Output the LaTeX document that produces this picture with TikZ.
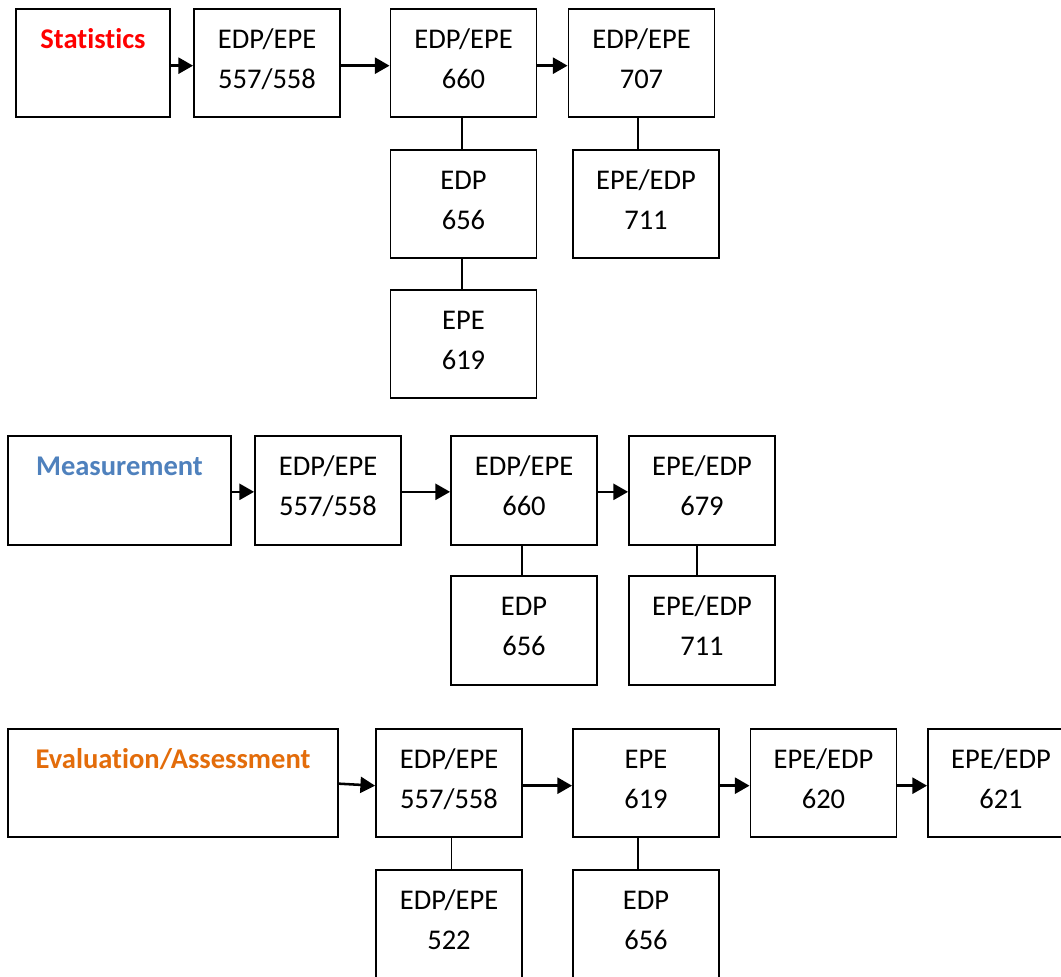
\documentclass[tikz,border=0pt]{standalone}
\usepackage{fontspec}
\setmainfont{Carlito}[Ligatures=NoCommon]
\usetikzlibrary{arrows.meta,calc}
\definecolor{statred}{HTML}{FF0000}
\definecolor{measblue}{HTML}{4F81BD}
\definecolor{evalorange}{HTML}{E36C0A}
\newcommand\twoline[2]{\rule{0pt}{17pt}#1\\#2\rule[-9.5pt]{0pt}{0pt}}
\tikzset{
  bx/.style={draw, line width=1.4pt, inner sep=0pt, align=center,
    minimum width=109.5pt, minimum height=81pt,
    font=\fontsize{21.4pt}{30pt}\selectfont},
  titlebox/.style={draw, line width=1.4pt, inner sep=0pt, minimum height=81pt},
  ttl/.style={anchor=base, inner sep=0pt, font=\fontsize{21.4pt}{30pt}\selectfont\bfseries},
  arr/.style={line width=1.9pt, -{Triangle[length=11pt,width=12pt]}},
  conn/.style={line width=1.2pt},
}
\begin{document}
\begin{tikzpicture}[x=0.75pt,y=-0.75pt]
\clip (0,0) rectangle (1061,976);
\fill[white] (0,0) rectangle (1061,976);
% ---------- Statistics ----------
\node[titlebox, minimum width=115.5pt] (stat) at (93,63) {};
\node[ttl, text=statred] (statT) at (93,48) {Statistics};
\node[bx] (s1) at (267,63) {\twoline{EDP/EPE}{557/558}};
\node[bx] (s2) at (463.5,63) {\twoline{EDP/EPE}{660}};
\node[bx] (s3) at (641.5,63) {\twoline{EDP/EPE}{707}};
\node[bx] (s4) at (463.5,204) {\twoline{EDP}{656}};
\node[bx] (s5) at (646,204) {\twoline{EPE/EDP}{711}};
\node[bx] (s6) at (463.5,344) {\twoline{EPE}{619}};
\draw[arr] ([yshift=-2pt]stat.east) -- ([yshift=-2pt]s1.west);
\draw[arr] ([yshift=-2pt]s1.east) -- ([yshift=-2pt]s2.west);
\draw[arr] ([yshift=-2pt]s2.east) -- ([yshift=-2pt]s3.west);
\draw[conn] ([xshift=-1.3pt]s2.south) -- ([xshift=-1.3pt]s4.north);
\draw[conn] ([xshift=-1.3pt]s4.south) -- ([xshift=-1.3pt]s6.north);
\draw[conn] ([xshift=-2.6pt]s3.south) -- ([xshift=-2.6pt]s3.south |- s5.north);
% ---------- Measurement ----------
\node[titlebox, minimum width=167.25pt, minimum height=81.75pt] (meas) at (119.5,490.5) {};
\node[ttl, text=measblue] (measT) at (119.5,475) {Measurement};
\node[bx, minimum height=81.75pt] (m1) at (328,490.5) {\twoline{EDP/EPE}{557/558}};
\node[bx, minimum height=81.75pt] (m2) at (524,490.5) {\twoline{EDP/EPE}{660}};
\node[bx, minimum height=81.75pt] (m3) at (702,490.5) {\twoline{EPE/EDP}{679}};
\node[bx, minimum height=81.75pt] (m4) at (524,630.5) {\twoline{EDP}{656}};
\node[bx, minimum height=81.75pt] (m5) at (702,630.5) {\twoline{EPE/EDP}{711}};
\draw[arr] ([yshift=-1pt]meas.east) -- ([yshift=-1pt]m1.west);
\draw[arr] ([yshift=-1pt]m1.east) -- ([yshift=-1pt]m2.west);
\draw[arr] ([yshift=-1pt]m2.east) -- ([yshift=-1pt]m3.west);
\draw[conn] ([xshift=-1.3pt]m2.south) -- ([xshift=-1.3pt]m4.north);
\draw[conn] ([xshift=-3.75pt]m3.south) -- ([xshift=-3.75pt]m5.north);
% ---------- Evaluation/Assessment ----------
\node[titlebox, minimum width=247.5pt] (eval) at (173,783) {};
\node[ttl, text=evalorange] (evalT) at (173,768) {Evaluation/Assessment};
\node[bx] (e1) at (449,783) {\twoline{EDP/EPE}{557/558}};
\node[bx] (e2) at (646,783) {\twoline{EPE}{619}};
\node[bx] (e3) at (823.5,783) {\twoline{EPE/EDP}{620}};
\node[bx] (e4) at (1001,783) {\twoline{EPE/EDP}{621}};
\node[bx] (e5) at (449,924) {\twoline{EDP/EPE}{522}};
\node[bx] (e6) at (646,924) {\twoline{EDP}{656}};
\draw[arr] ([yshift=-0.5pt]eval.east) -- ([yshift=-2pt]e1.west);
\draw[arr] ([yshift=-2pt]e1.east) -- ([yshift=-2pt]e2.west);
\draw[arr] ([yshift=-2pt]e2.east) -- ([yshift=-2pt]e3.west);
\draw[arr] ([yshift=-2pt]e3.east) -- ([yshift=-2pt]e4.west);
\draw[conn] ([xshift=2pt]e1.south) -- ([xshift=2pt]e5.north);
\draw[conn] ([xshift=-6pt]e2.south) -- ([xshift=-6pt]e6.north);
\end{tikzpicture}
\end{document}
